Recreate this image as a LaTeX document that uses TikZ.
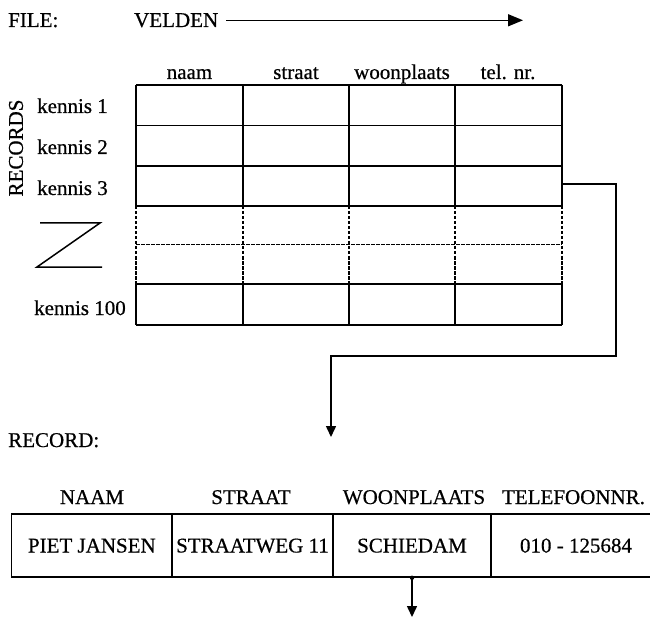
\documentclass[tikz,border=0pt]{standalone}
\usepackage{fontspec}
\setmainfont{Liberation Serif}[FakeBold=0.6]
\usetikzlibrary{arrows.meta}
\begin{document}
\begin{tikzpicture}[x=1pt,y=-1pt,
  lbl/.style={inner sep=0pt, anchor=base, font=\fontsize{21}{24}\selectfont},
  lbll/.style={lbl, anchor=base west},
  gridline/.style={line width=1.5pt},
  dashline/.style={line width=1.2pt, dash pattern=on 3.5pt off 1.5pt},
  conn/.style={line width=1.5pt},
  arr/.style={conn, -{Triangle[length=11pt,width=10pt]}},
  bigarr/.style={conn, -{Triangle[length=15pt,width=12pt]}},
  cell/.style={draw, line width=1.5pt, inner sep=0pt, minimum height=63pt,
    text height=14pt, text depth=0pt, font=\fontsize{21}{24}\selectfont},
  rowbox/.style={inner sep=0pt, minimum width=426pt, minimum height=40pt}
]
\useasboundingbox (0,0) rectangle (650,620);

% top labels
\node[lbll] (file) at (8,27) {FILE:};
\node[lbll] (velden) at (134,27) {VELDEN};
\coordinate (vend) at (523,21);
\draw[bigarr] ([xshift=8pt]velden.east) -- (vend |- velden.east);

% column headers
\node[lbl] (hnaam) at (189.5,79) {naam};
\node[lbl] (hstraat) at (296,79) {straat};
\node[lbl] (hwoon) at (402,79) {woonplaats};
\node[lbl] (htel) at (508,79) {tel. nr.};

% row labels
\node[lbl, rotate=90, anchor=center] (records) at (16,148) {RECORDS};
\node[lbll] (k1) at (37,113) {kennis 1};
\node[lbll] (k2) at (37,154) {kennis 2};
\node[lbll] (k3) at (37,195) {kennis 3};
\node[lbll] (k100) at (34,315) {kennis 100};

% Z mark
\draw[gridline] (40,223) -- (100,223) -- (37,267) -- (102,267);

% grid
\foreach \y in {85,125.5,166,206,284,325}
  \draw[gridline] (136,\y) -- (562,\y);
\draw[dashline] (136,244.5) -- (562,244.5);
\foreach \x in {136,243,349,455,562} {
  \draw[gridline] (\x,85) -- (\x,206);
  \draw[gridline] (\x,284) -- (\x,325);
  \draw[dashline] (\x,206) -- (\x,284);
}
\node[rowbox] (row3) at (349,184) {};

% connector to record
\coordinate (tgt) at (331,437);
\draw[arr] (row3.east) -| (616,356) -| (tgt);

% record
\node[lbll] (record) at (8,447) {RECORD:};
\node[lbl] (bnaam) at (92,504) {NAAM};
\node[lbl] (bstraat) at (251,504) {STRAAT};
\node[lbl] (bwoon) at (414,504) {WOONPLAATS};
\node[lbl] (btel) at (573.5,504) {TELEFOONNR.};

\node[cell, minimum width=160.3pt] (c1) at (91.85,545.5) {PIET JANSEN};
\node[cell, minimum width=161pt] (c2) at (252.5,545.5) {STRAATWEG 11};
\node[cell, minimum width=158pt] (c3) at (412,545.5) {SCHIEDAM};
\node[cell, minimum width=170pt] (c4) at (576,545.5) {010 - 125684};

\coordinate (tgt2) at (412,617);
\fill (c3.south) circle (2.2pt);
\draw[arr] (c3.south) -- (tgt2);
\end{tikzpicture}
\end{document}
